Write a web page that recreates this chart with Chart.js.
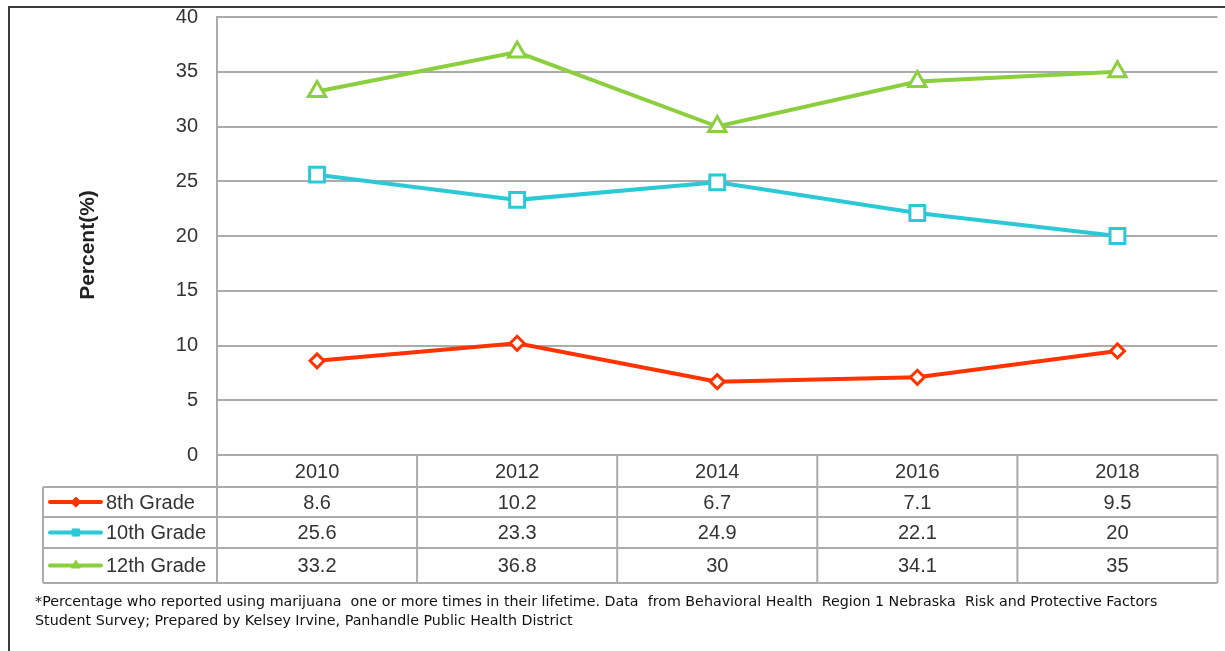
<!DOCTYPE html>
<html>
<head>
<meta charset="utf-8">
<script src="https://cdn.jsdelivr.net/npm/chart.js@4"></script>
<style>
  html, body { margin: 0; padding: 0; background: #fff; overflow: hidden; }
  #wrap { position: relative; width: 1225px; height: 651px; overflow: hidden; }
</style>
</head>
<body>
<div id="wrap"><canvas id="c" width="1231" height="651"></canvas></div>
<script>
// ---- data ----
const categories = ["2010", "2012", "2014", "2016", "2018"];
const grade8 = [8.6, 10.2, 6.7, 7.1, 9.5];
const grade10 = [25.6, 23.3, 24.9, 22.1, 20];
const grade12 = [33.2, 36.8, 30, 34.1, 35];
const seriesNames = ["8th Grade", "10th Grade", "12th Grade"];
const yTicks = { min: 0, max: 40, step: 5 };
const yTitle = "Percent(%)";
const footnote = [
  "*Percentage who reported using marijuana  one or more times in their lifetime. Data  from Behavioral Health  Region 1 Nebraska  Risk and Protective Factors",
  "Student Survey; Prepared by Kelsey Irvine, Panhandle Public Health District"
];

const colors = ["#ff3300", "#2cc8d6", "#8ccf3e"];
const styles = ["rectRot", "rect", "triangle"];
const radii = [7, 10.5, 10];
const seriesData = [grade8, grade10, grade12];

const FONT = "'Liberation Sans', Arial, sans-serif";
const TXT = "#333333";
const GRID = "#ababab";

const tablePlugin = {
  id: "dataTable",
  afterDraw(chart) {
    const ctx = chart.ctx;
    const a = chart.chartArea;
    const x = chart.scales.x;
    const n = categories.length;
    const colW = (a.right - a.left) / n;
    const legendLeft = 43;
    const rowTops = [a.bottom, 487, 517, 548, 583];
    ctx.save();
    ctx.strokeStyle = GRID;
    ctx.lineWidth = 2;
    ctx.beginPath();
    ctx.moveTo(a.left, rowTops[0]); ctx.lineTo(a.right, rowTops[0]);
    for (let r = 1; r < rowTops.length; r++) {
      ctx.moveTo(legendLeft, rowTops[r]); ctx.lineTo(a.right, rowTops[r]);
    }
    for (let i = 0; i <= n; i++) {
      const vx = a.left + i * colW;
      ctx.moveTo(vx, a.bottom); ctx.lineTo(vx, rowTops[4]);
    }
    ctx.moveTo(legendLeft, rowTops[1]); ctx.lineTo(legendLeft, rowTops[4]);
    ctx.stroke();

    ctx.fillStyle = TXT;
    ctx.font = "20px " + FONT;
    ctx.textAlign = "center";
    ctx.textBaseline = "middle";
    categories.forEach((c, i) => {
      ctx.fillText(c, x.getPixelForValue(i), (rowTops[0] + rowTops[1]) / 2 + 1);
    });
    seriesData.forEach((vals, r) => {
      const cy = (rowTops[r + 1] + rowTops[r + 2]) / 2 + 1;
      ctx.fillStyle = TXT;
      ctx.textAlign = "center";
      vals.forEach((v, i) => {
        ctx.fillText(String(v), x.getPixelForValue(i), cy);
      });
      ctx.strokeStyle = colors[r];
      ctx.lineWidth = 4;
      ctx.lineCap = "round";
      ctx.beginPath();
      ctx.moveTo(50, cy - 1); ctx.lineTo(101, cy - 1);
      ctx.stroke();
      ctx.fillStyle = colors[r];
      ctx.lineWidth = 1;
      Chart.helpers.drawPoint(ctx, { pointStyle: styles[r], radius: 5, borderWidth: 1 }, 76, cy - 1);
      ctx.fill();
      ctx.fillStyle = TXT;
      ctx.textAlign = "left";
      ctx.fillText(seriesNames[r], 106, cy);
    });

    ctx.save();
    ctx.translate(88, 245);
    ctx.rotate(-Math.PI / 2);
    ctx.font = "bold 21px " + FONT;
    ctx.fillStyle = "#222222";
    ctx.textAlign = "center";
    ctx.textBaseline = "middle";
    ctx.fillText(yTitle, 0, 0);
    ctx.restore();

    const fam = "'DejaVu Sans', sans-serif";
    ctx.font = "11px " + fam;
    const w0 = ctx.measureText(footnote[0]).width;
    const fs = 11 * 1123 / w0;
    ctx.font = fs.toFixed(2) + "px " + fam;
    ctx.fillStyle = "#111111";
    ctx.textAlign = "left";
    ctx.textBaseline = "middle";
    ctx.fillText(footnote[0], 35, 602);
    ctx.fillText(footnote[1], 35, 621);

    ctx.strokeStyle = "#3a3a3a";
    ctx.lineWidth = 2;
    ctx.beginPath();
    ctx.moveTo(9, 651); ctx.lineTo(9, 7); ctx.lineTo(1231, 7);
    ctx.stroke();
    ctx.restore();
  }
};

const datasets = seriesData.map((d, i) => ({
  label: seriesNames[i],
  data: d,
  borderColor: colors[i],
  backgroundColor: "#ffffff",
  borderWidth: 4,
  pointStyle: styles[i],
  pointRadius: radii[i],
  pointHoverRadius: radii[i],
  pointBorderWidth: 3,
  pointBorderColor: colors[i],
  pointBackgroundColor: "#ffffff",
  tension: 0,
  fill: false
}));

new Chart(document.getElementById("c"), {
  type: "line",
  data: { labels: categories, datasets },
  options: {
    responsive: false,
    animation: false,
    devicePixelRatio: 1,
    layout: { padding: { left: 0, top: 17, right: 2, bottom: 196 } },
    plugins: { legend: { display: false }, tooltip: { enabled: false }, title: { display: false } },
    scales: {
      x: { type: "category", offset: true, display: false },
      y: {
        min: yTicks.min,
        max: yTicks.max,
        afterFit(scale) { scale.width = 217; },
        ticks: {
          stepSize: yTicks.step,
          padding: 0,
          color: TXT,
          font: { family: FONT, size: 20 }
        },
        grid: { color: GRID, lineWidth: 2, drawTicks: true, tickLength: 19, tickColor: "rgba(0,0,0,0)" },
        border: { display: true, color: GRID, width: 2 }
      }
    }
  },
  plugins: [tablePlugin]
});
</script>
</body>
</html>
